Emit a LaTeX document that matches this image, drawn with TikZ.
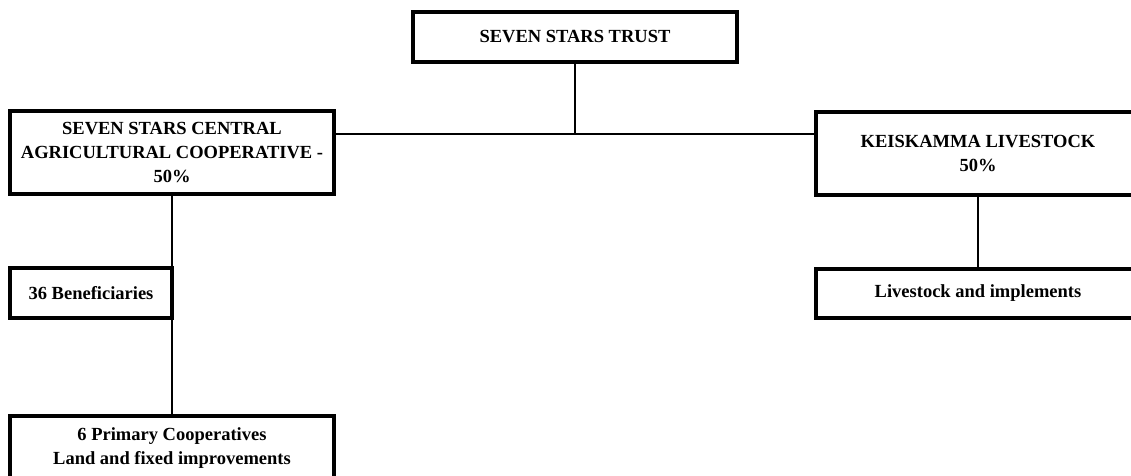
\documentclass[tikz,border=0pt]{standalone}
\usepackage{fontspec}
\setmainfont{Liberation Serif}
\begin{document}
\begin{tikzpicture}[x=1pt,y=-1pt,
  box/.style={draw, line width=3.2pt, rectangle, inner sep=0pt, align=center,
    font=\bfseries\fontsize{18.5}{24}\selectfont},
  conn/.style={line width=2.6pt}]
\useasboundingbox (0,0) rectangle (1131,475);
\clip (0,0) rectangle (1131,475);
\node[box, minimum width=324pt, minimum height=50pt] (trust) at (575,37) {SEVEN STARS TRUST};
\node[box, minimum width=324pt, minimum height=83pt] (central) at (172,152.5) {SEVEN STARS CENTRAL\\AGRICULTURAL COOPERATIVE -\\50\%};
\node[box, minimum width=324pt, minimum height=83pt] (keis) at (978,153.5) {KEISKAMMA LIVESTOCK\\50\%};
\node[box, minimum width=324pt, minimum height=49pt] (live) at (978,293.5) {Livestock and implements};
\node[box, minimum width=162pt, minimum height=50pt] (benef) at (91,293) {36 Beneficiaries};
\node[box, minimum width=324pt, minimum height=64pt] (prim) at (172,448) {6 Primary Cooperatives\\Land and fixed improvements};
\coordinate (hub) at (575,134);
\draw[conn] (trust.south) -- (hub);
\draw[conn] (central.east |- hub) -- (keis.west |- hub);
\draw[conn] (central.south) -- (central.south |- benef.north);
\draw[conn] (central.south |- benef.south) -- (prim.north);
\draw[conn] (keis.south) -- (live.north);
\end{tikzpicture}
\end{document}
